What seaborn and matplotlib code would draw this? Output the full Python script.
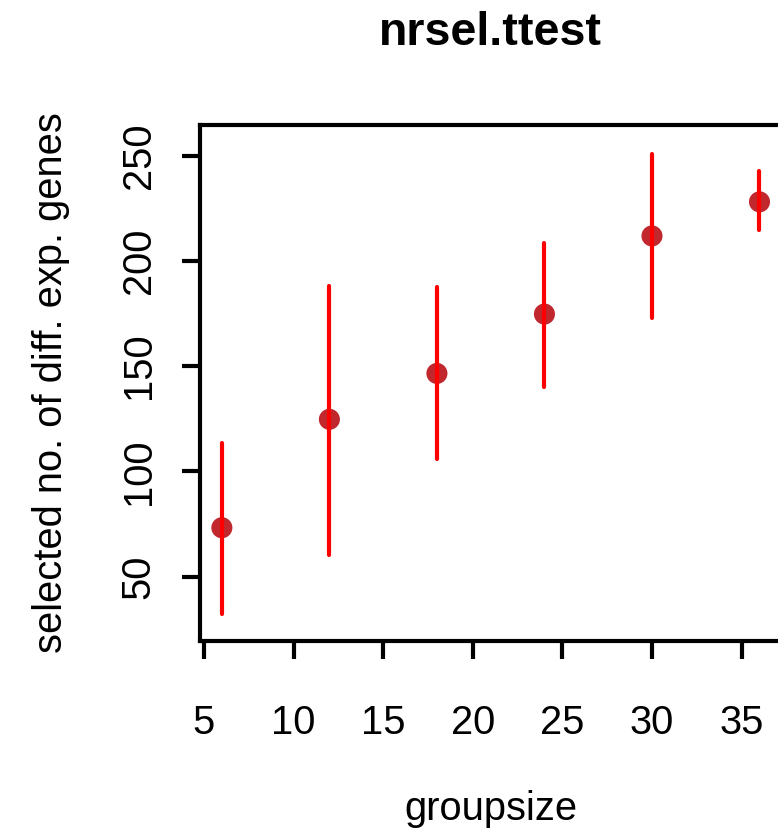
import matplotlib
matplotlib.use("Agg")
import matplotlib.pyplot as plt
import seaborn as sns
import pandas as pd

# Data
groupsize = [6, 12, 18, 24, 30, 36]
selected = [73.2, 124.7, 146.5, 174.7, 211.8, 228.0]
lower = [32.2, 60.4, 105.8, 139.9, 172.9, 214.4]
upper = [113.6, 188.0, 187.4, 208.3, 250.7, 242.7]
xticks = [5, 10, 15, 20, 25, 30, 35]
yticks = [50, 100, 150, 200, 250]

title = "nrsel.ttest"
xlabel = "groupsize"
ylabel = "selected no. of diff. exp. genes"

df = pd.DataFrame({"groupsize": groupsize, "selected": selected,
                   "lower": lower, "upper": upper})

sns.set_style("white")
plt.rcParams["font.family"] = ["Liberation Sans", "DejaVu Sans"]
plt.rcParams["text.color"] = "black"
plt.rcParams["axes.labelcolor"] = "black"
plt.rcParams["xtick.color"] = "black"
plt.rcParams["ytick.color"] = "black"

fig = plt.figure(figsize=(7.78, 8.36), dpi=100)
ax = fig.add_axes([200 / 778, 195 / 836, 581 / 778, 516 / 836])

sns.scatterplot(data=df, x="groupsize", y="selected", ax=ax,
                color="#C0282D", s=230, edgecolor="none",
                linewidth=0, zorder=2, legend=False)
ax.vlines(df["groupsize"], df["lower"], df["upper"], colors="#FF0000",
          linewidth=3.0, zorder=3, capstyle="round")

ax.set_xlim(4.78, 37.2)
ax.set_ylim(19.4, 264.5)
ax.set_xticks(xticks)
ax.set_yticks(yticks)
ax.set_xticklabels([str(v) for v in xticks])
ax.set_yticklabels([str(v) for v in yticks], rotation=90, va="center")

for sp in ax.spines.values():
    sp.set_visible(True)
    sp.set_color("black")
    sp.set_linewidth(3.0)

ax.tick_params(axis="both", which="major", length=13, width=3.0,
               color="black", labelcolor="black", labelsize=28.7,
               direction="out", bottom=True, left=True)
ax.tick_params(axis="x", pad=32)
ax.tick_params(axis="y", pad=17.5)

ax.set_xlabel(xlabel, fontsize=28.7, labelpad=35, color="black")
ax.set_ylabel(ylabel, fontsize=28.7, labelpad=36, color="black")
ax.set_title(title, fontsize=33.5, fontweight="bold", pad=57.6, color="black")

fig.savefig("out.png", dpi=100)
